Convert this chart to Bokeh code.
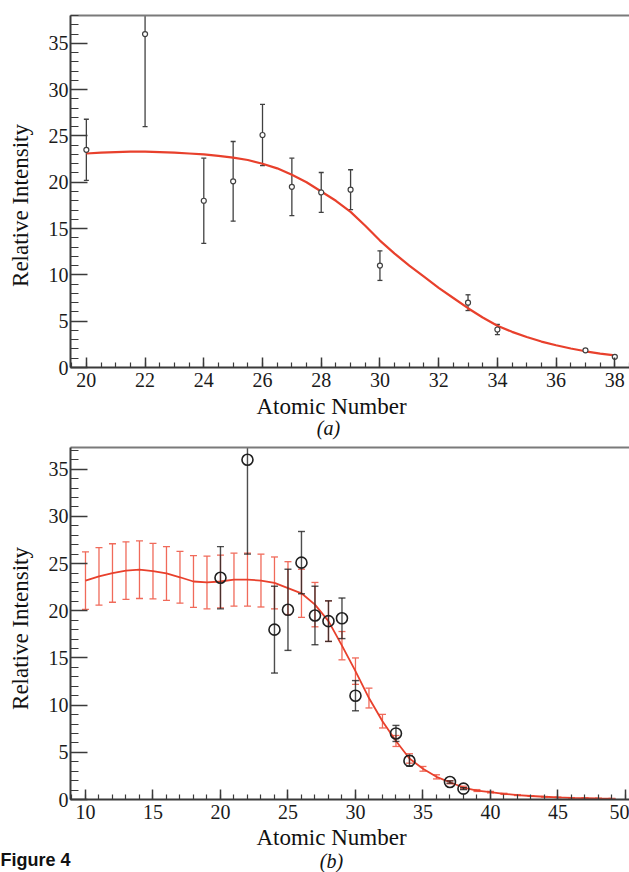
import math
from bokeh.plotting import figure
from bokeh.layouts import column
from bokeh.models import SingleIntervalTicker, FixedTicker, Range1d, Label, LinearAxis
from bokeh.embed import file_html
from bokeh.resources import INLINE

# ---------------- data ----------------
# experimental points (same in both panels)
atomic_number = [20, 22, 24, 25, 26, 27, 28, 29, 30, 33, 34, 37, 38]
intensity = [23.5, 36.0, 18.0, 20.1, 25.1, 19.5, 18.9, 19.2, 11.0, 7.0, 4.1, 1.85, 1.15]
intensity_err = [3.3, 10.0, 4.6, 4.3, 3.3, 3.1, 2.15, 2.15, 1.6, 0.85, 0.55, 0.12, 0.1]

# panel (a): fitted curve
fit_a_z = [20.0, 20.5, 21.0, 21.5, 22.0, 22.5, 23.0, 23.5, 24.0, 24.5, 25.0, 25.5,
           26.0, 26.5, 27.0, 27.5, 28.0, 28.5, 29.0, 29.5, 30.0, 30.5, 31.0, 31.5,
           32.0, 32.5, 33.0, 33.5, 34.0, 34.5, 35.0, 35.5, 36.0, 36.5, 37.0, 37.5, 38.0]
fit_a_y = [23.1, 23.2, 23.25, 23.3, 23.3, 23.25, 23.2, 23.1, 23.0, 22.85, 22.65, 22.4,
           22.0, 21.5, 20.8, 20.0, 19.0, 18.0, 16.8, 15.3, 13.7, 12.3, 11.0, 9.8,
           8.6, 7.5, 6.4, 5.4, 4.5, 3.85, 3.3, 2.8, 2.4, 2.05, 1.75, 1.5, 1.3]

# panel (b): model values with uncertainties, Z = 10 .. 49
model_z = [10, 11, 12, 13, 14, 15, 16, 17, 18, 19,
           20, 21, 22, 23, 24, 25, 26, 27, 28, 29,
           30, 31, 32, 33, 34, 35, 36, 37, 38, 39,
           40, 41, 42, 43, 44, 45, 46, 47, 48, 49]
model_y = [23.2, 23.65, 24.0, 24.25, 24.35, 24.2, 23.95, 23.55, 23.1, 23.0,
           23.1, 23.3, 23.3, 23.2, 22.95, 22.4, 21.85, 20.65, 18.9, 16.3,
           13.6, 10.75, 8.3, 6.2, 4.35, 3.25, 2.4, 1.83, 1.27, 0.95,
           0.78, 0.6, 0.47, 0.37, 0.29, 0.23, 0.18, 0.15, 0.12, 0.1]
model_err = [3.05, 3.05, 3.1, 3.05, 3.05, 2.95, 2.85, 2.75, 2.75, 2.8,
             2.8, 2.8, 2.8, 2.8, 2.75, 2.8, 2.55, 2.35, 2.15, 1.5,
             1.4, 1.05, 0.72, 0.58, 0.5, 0.25, 0.22, 0.17, 0.14, 0.1,
             0.08, 0.06, 0.05, 0.04, 0.03, 0.03, 0.02, 0.02, 0.02, 0.02]

x_label = "Atomic Number"
y_label = "Relative Intensity"
panel_a_label = "(a)"
panel_b_label = "(b)"
caption = "Figure 4"

SERIF = "Liberation Serif"
AX = "#3a3a3a"
RED = "#e8402c"
RED_BAR = "#f06a5a"
W = 629
FRAME_LEFT = 70


def make_panel(H, x_left, x_right, ytop, ftop, fbot, xint, xminor):
    """Figure whose frame fills the canvas; axes sit at fixed data locations."""
    sx = (W - FRAME_LEFT) / (x_right - x_left)
    x_start = x_left - FRAME_LEFT / sx
    sy = (fbot - ftop) / ytop
    y_start = -(H - fbot) / sy
    y_end = ytop + ftop / sy
    p = figure(width=W, height=H, x_range=Range1d(x_start, x_right),
               y_range=Range1d(y_start, y_end), output_backend="svg",
               toolbar_location=None, min_border=0, min_border_left=0,
               min_border_right=0, min_border_top=0, min_border_bottom=0,
               outline_line_color=None)
    p.grid.visible = False
    p.xaxis.ticker = SingleIntervalTicker(interval=xint, num_minor_ticks=xminor)
    p.yaxis.ticker = SingleIntervalTicker(interval=5, num_minor_ticks=5)
    p.xaxis.fixed_location = 0
    p.xaxis.bounds = (x_left, x_right)
    p.yaxis.fixed_location = x_left
    p.yaxis.bounds = (0, ytop)
    for ax in (p.xaxis[0], p.yaxis[0]):
        ax.axis_line_color = AX
        ax.axis_line_width = 2
        ax.major_tick_line_color = AX
        ax.minor_tick_line_color = AX
        ax.major_tick_line_width = 1.5
        ax.minor_tick_line_width = 1.2
        ax.major_tick_out = 0
        ax.minor_tick_out = 0
        ax.major_label_text_font = SERIF
        ax.major_label_text_font_size = "20px"
        ax.major_label_text_color = "#1a1a1a"
    p.xaxis.major_tick_in = 10
    p.xaxis.minor_tick_in = 5
    p.xaxis.major_label_standoff = 5
    p.yaxis.major_tick_in = 17
    p.yaxis.minor_tick_in = 8
    p.yaxis.major_label_standoff = 2
    top = LinearAxis(fixed_location=ytop, bounds=(x_left, x_right),
                     ticker=FixedTicker(ticks=[]), axis_line_color="#7a7a7a",
                     axis_line_width=2, major_tick_in=0, major_tick_out=0,
                     minor_tick_in=0, minor_tick_out=0,
                     major_label_text_font_size="0px")
    p.add_layout(top, "above")
    return p


def add_text(p, text, x, y, size, style="normal", angle=0.0, font=SERIF, align="center"):
    p.add_layout(Label(x=x, y=y, x_units="screen", y_units="screen", text=text,
                       text_font=font, text_font_size=size, text_font_style=style,
                       text_align=align, text_baseline="alphabetic", angle=angle,
                       text_color="#111111"))


def error_bars(p, xs, ys, errs, ytop, color, width, cap, alpha=1.0):
    lo = [y - e for y, e in zip(ys, errs)]
    hi = [min(y + e, ytop) for y, e in zip(ys, errs)]
    p.segment(x0=xs, y0=lo, x1=xs, y1=hi, line_color=color, line_width=width,
              line_alpha=alpha)
    cx = list(xs) + [x for x, y, e in zip(xs, ys, errs) if y + e <= ytop]
    cy = lo + [y + e for y, e in zip(ys, errs) if y + e <= ytop]
    p.scatter(x=cx, y=cy, marker="dash", size=cap, line_color=color,
              line_width=width, line_alpha=alpha)


# ---------------- panel (a) ----------------
HA = 440
YTOP_A = 38
pa = make_panel(HA, 19.46, 38.5, YTOP_A, 15, 367, 2, 4)
error_bars(pa, atomic_number, intensity, intensity_err, YTOP_A, "#404040", 1.3, 5)
pa.line(fit_a_z, fit_a_y, line_color=RED, line_width=2.2)
pa.scatter(atomic_number, intensity, marker="circle", size=5, fill_color="white",
           line_color="#404040", line_width=1.2)
add_text(pa, x_label, 331, HA - 406, "23px")
add_text(pa, panel_a_label, 328, HA - 427, "20px", style="italic")
add_text(pa, y_label, 20, HA - 205, "23px", angle=math.pi / 2)

# ---------------- panel (b) ----------------
HB = 432
YTOP_B = 37.3
pb = make_panel(HB, 8.89, 50.3, YTOP_B, 7, 359, 5, 5)
error_bars(pb, model_z, model_y, model_err, YTOP_B, RED_BAR, 1.3, 7)
pb.line(model_z, model_y, line_color=RED, line_width=1.8)
error_bars(pb, atomic_number, intensity, intensity_err, YTOP_B, "#202020", 1.4, 7, alpha=0.8)
pb.scatter(atomic_number, intensity, marker="circle", size=11, fill_color=None,
           line_color="#202020", line_width=1.6)
add_text(pb, x_label, 331, HB - 397, "23px")
add_text(pb, panel_b_label, 331, HB - 420, "20px", style="italic")
add_text(pb, y_label, 20, HB - 188, "23px", angle=math.pi / 2)
add_text(pb, caption, 0, HB - 419, "18px", style="bold", font="Liberation Sans",
         align="left")

layout = column(pa, pb, spacing=0)
open("out.html", "w").write(file_html(layout, INLINE))
